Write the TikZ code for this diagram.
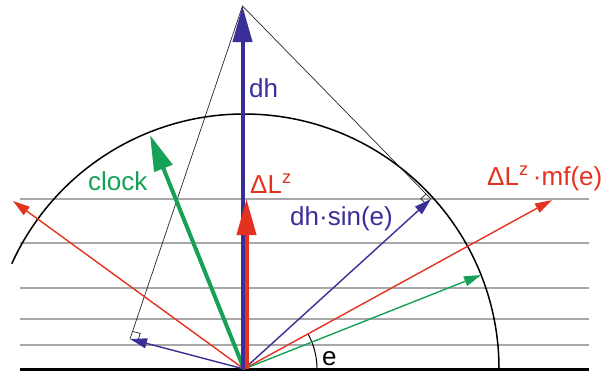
\documentclass[tikz,border=0pt]{standalone}
\usepackage{fontspec}
\setmainfont{Liberation Sans}
\usepackage{tikz}
\usetikzlibrary{
  arrows.meta,
  calc
}
\definecolor{vecblue}{HTML}{3A2E98}
\definecolor{vecred}{HTML}{E3321F}
\definecolor{vecgreen}{HTML}{17A157}
\definecolor{levelgray}{HTML}{A8A8A8}

\begin{document}
\begin{tikzpicture}[
  x=1pt, y=-1pt,
  level/.style={draw=levelgray, line width=1.4pt},
  thinline/.style={draw=black!85, line width=0.7pt},
  bigvec/.style={line width=4pt, -{Triangle[length=36pt, width=19pt]}},
  smallvec/.style={line width=1.4pt, -{Triangle[length=17pt, width=10pt]}},
  lbl/.style={font=\fontsize{26}{30}\selectfont, inner sep=0pt, anchor=base west},
]
\useasboundingbox (0,0) rectangle (609,372);

% levels
\foreach \y in {199,243,288,319,345}
  \draw[level] (20,\y) -- (589,\y);
\draw[line width=3pt] (20,369) -- (589,369);

% points
\coordinate (O) at (244,369);
\coordinate (Ob) at (242.5,369);
\coordinate (Or) at (246.5,369);
\coordinate (T) at (242.5,6);
\coordinate (LZ) at (246.5,199);
\coordinate (P1) at (431,199);
\coordinate (P2) at (130,339);
\coordinate (RL) at (13,201);
\coordinate (RR) at (552,200);
\coordinate (CL) at (150,135);
\coordinate (GR) at (481,275);

% sphere and angle
\draw[line width=1.5pt] ($(O)+(255,0)$) arc[start angle=0, end angle=-155.6, radius=255];
\draw[line width=1pt] ($(O)+(73,0)$) arc[start angle=0, end angle=-28.5, radius=73];

% projection triangle
\draw[thinline] (P2) -- (T) -- (P1);
\path ($(P1)!7pt!(O)$) coordinate (a1) ($(P1)!7pt!(T)$) coordinate (b1);
\draw[thinline] (a1) -- ($(a1)+(b1)-(P1)$) -- (b1);
\path ($(P2)!8pt!(O)$) coordinate (a2) ($(P2)!8pt!(T)$) coordinate (b2);
\draw[thinline] (a2) -- ($(a2)+(b2)-(P2)$) -- (b2);

% arrows
\draw[smallvec, vecred] (O) -- (RL);
\draw[smallvec, vecred] (O) -- (RR);
\draw[smallvec, vecgreen] (O) -- (GR);
\draw[smallvec, vecblue] (O) -- (P1);
\draw[smallvec, vecblue] (O) -- (P2);
\draw[bigvec, vecgreen] (O) -- (CL);
\draw[bigvec, vecblue] (Ob) -- (T);
\draw[bigvec, vecred] (Or) -- (LZ);

% labels
\node[lbl, text=vecblue] (dhlbl) at (249,97) {dh};
\node[lbl, text=vecred] (lzlbl) at (250,193) {ΔL\textsuperscript{z}};
\node[lbl, text=vecgreen] (clocklbl) at (88,190) {clock};
\node[lbl, text=vecblue] (sinlbl) at (290,225) {dh·sin(e)};
\node[lbl, text=vecred] (mflbl) at (487,185) {ΔL\textsuperscript{z}\,·mf(e)};
\node[lbl] (elbl) at (322,365) {e};

\end{tikzpicture}
\end{document}
